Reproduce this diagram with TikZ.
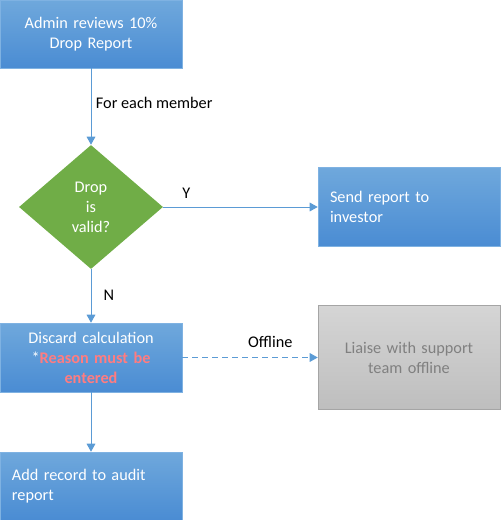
\documentclass[tikz,border=0pt]{standalone}
\usepackage{fontspec}
\setmainfont{Carlito}
\usetikzlibrary{arrows.meta,shapes}
\definecolor{boxtop}{HTML}{6FA8DC}
\definecolor{boxbot}{HTML}{4A8CD3}
\definecolor{boxline}{HTML}{7FB2E2}
\definecolor{leaf}{HTML}{70AD47}
\definecolor{flow}{HTML}{5B9BD5}
\definecolor{warn}{HTML}{FF7C80}
\definecolor{greytop}{HTML}{D5D5D5}
\definecolor{greybot}{HTML}{BEBEBE}
\definecolor{greyline}{HTML}{A5A5A5}
\definecolor{greytext}{HTML}{808080}

\begin{document}
\begin{tikzpicture}[->,>={Triangle[length=6pt,width=6.5pt]},auto,node distance=1cm,
        font=\fontsize{12.2}{15}\selectfont,
        every edge/.style={draw=flow,line width=.75pt},
        task/.style={rectangle,minimum width=136.5pt,minimum height=51pt,text width=118.5pt,inner sep=0,draw=boxline,top color=boxtop,bottom color=boxbot,text=white,align=center},
        test/.style={diamond,minimum width=108pt,minimum height=93pt,inner sep=0,fill=leaf,text=white,align=center},
        offline/.style={task,minimum height=78pt,draw=greyline,top color=greytop,bottom color=greybot,text=greytext}]
        \useasboundingbox (0,0) rectangle (375pt,-390pt);
        \node[task]    (rev) at (68.25pt,-25.5pt) {Admin reviews 10\%\\Drop Report};
        \node[test]    (chk) [below of=rev,node distance=129.75pt] {Drop\\is\\valid?};
        \node[task]    (send) [right of=chk,node distance=238.5pt,minimum height=59.25pt,align=left] {Send report to\\investor};
        \node[task]    (disc) [below of=chk,node distance=112.875pt,minimum height=51.75pt] {Discard calculation\\{}*\textcolor{warn}{\textbf{Reason must be}}\\\textcolor{warn}{\textbf{entered}}};
        \node[offline] (liaise) [right of=disc,node distance=238.5pt] {Liaise with support\\team offline};
        \node[task]    (audit) [below of=disc,node distance=96.375pt,align=left] {Add record to audit\\report};
        \path
          (rev)  edge node[pos=.45] {For each member} (chk)
          (chk)  edge node[pos=.15,inner sep=6pt] {Y} (send)
          (chk)  edge node[pos=.48,inner sep=9pt] {N} (disc)
          (disc) edge[dash pattern=on 4.5pt off 3pt] node[pos=.65,inner sep=7pt] {Offline} (liaise)
          (disc) edge (audit)
          ;
\end{tikzpicture}
\end{document}
